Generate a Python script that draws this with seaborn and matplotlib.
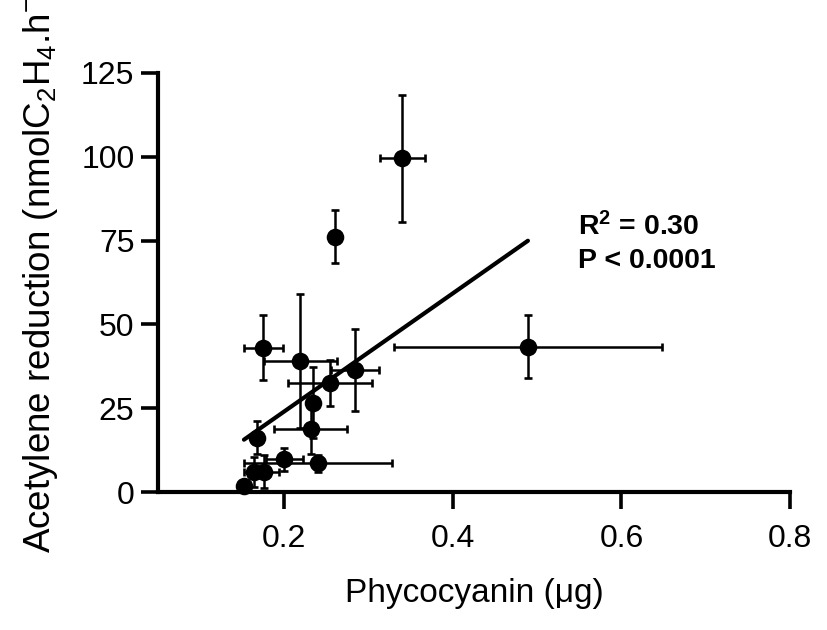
import seaborn as sns
import matplotlib
matplotlib.use("Agg")
import matplotlib.pyplot as plt
import pandas as pd
import numpy as np

# Werte
phycocyanin = [0.175, 0.219, 0.284, 0.254, 0.234, 0.231, 0.168, 0.200,
               0.240, 0.176, 0.164, 0.152, 0.340, 0.260, 0.489]
acetylene = [43.1, 39.1, 36.5, 32.5, 26.7, 18.7, 16.2, 9.7,
             8.6, 6.1, 6.0, 1.8, 99.5, 76.2, 43.4]
phyco_err = [0.023, 0.0435, 0.0285, 0.050, 0.004, 0.043, 0.004, 0.022,
             0.088, 0.018, 0.012, 0.006, 0.027, 0.004, 0.159]
acet_err = [9.8, 20.0, 12.2, 6.9, 10.5, 7.5, 5.0, 3.5,
            2.5, 5.0, 4.5, 1.5, 19.0, 8.0, 9.5]

x_ticks = [0.2, 0.4, 0.6, 0.8]
y_ticks = [0, 25, 50, 75, 100, 125]
stats_lines = ["R$^\\mathbf{2}$ = 0.30", "P < 0.0001"]

df = pd.DataFrame({
    "Phycocyanin": phycocyanin,
    "Acetylene": acetylene,
    "xerr": phyco_err,
    "yerr": acet_err,
})

sns.set_theme(style="ticks")
plt.rcParams.update({
    "font.family": ["Liberation Sans", "DejaVu Sans"],
    "mathtext.fontset": "custom",
    "mathtext.rm": "Liberation Sans",
    "mathtext.it": "Liberation Sans:italic",
    "mathtext.bf": "Liberation Sans:bold",
    "text.color": "black",
    "axes.labelcolor": "black",
    "axes.linewidth": 3.0,
    "xtick.major.width": 2.6,
    "ytick.major.width": 2.6,
    "xtick.major.size": 12,
    "ytick.major.size": 12,
    "xtick.labelsize": 23,
    "ytick.labelsize": 23,
    "xtick.color": "black",
    "ytick.color": "black",
    "xtick.labelcolor": "black",
    "ytick.labelcolor": "black",
    "axes.edgecolor": "black",
})

fig = plt.figure(figsize=(8.27, 6.30), dpi=100)
ax = fig.add_axes([158 / 827, 1 - 492 / 630, (790 - 158) / 827, (492 - 73) / 630])

# Fehlerbalken
ax.errorbar(df["Phycocyanin"], df["Acetylene"], xerr=df["xerr"], yerr=df["yerr"],
            fmt="none", ecolor="black", elinewidth=1.8, capsize=3.2, capthick=1.9,
            zorder=2, clip_on=False)

# Regressionsgerade
sns.regplot(data=df, x="Phycocyanin", y="Acetylene", ax=ax, scatter=False, ci=None,
            truncate=True, line_kws={"color": "black", "linewidth": 3.0, "zorder": 3})

# Punkte
sns.scatterplot(data=df, x="Phycocyanin", y="Acetylene", ax=ax, color="black",
                s=160, edgecolor="black", linewidth=0, zorder=4, clip_on=False)

ax.set_xlim(0.05, 0.8)
ax.set_ylim(0, 125)
ax.set_xticks(x_ticks)
ax.set_xticklabels([f"{t:.1f}" for t in x_ticks])
ax.set_yticks(y_ticks)
ax.tick_params(axis="x", pad=11)
ax.tick_params(axis="y", pad=5)
sns.despine(ax=ax)

ax.set_xlabel("Phycocyanin (\u03bcg)", fontsize=24)
ax.set_ylabel("Acetylene reduction (nmolC$_\\mathregular{2}$H$_\\mathregular{4}$.h$^\\mathregular{-1}$)",
              fontsize=26.5)
ax.xaxis.set_label_coords(0.5, -0.205)
ax.yaxis.set_label_coords(-0.153, 0.549)

ax.text(0.549, 76.7, stats_lines[0], fontsize=20.5, fontweight="bold", ha="left", va="baseline")
ax.text(0.549, 66.9, stats_lines[1], fontsize=20.5, fontweight="bold", ha="left", va="baseline")

fig.savefig("out.png", dpi=100)
